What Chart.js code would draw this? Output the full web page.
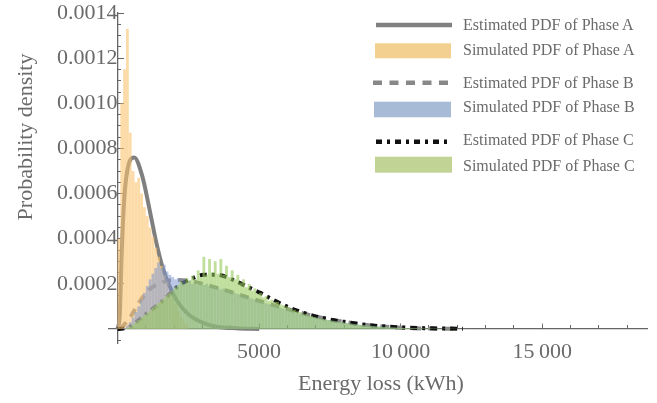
<!DOCTYPE html>
<html>
<head>
<meta charset="utf-8">
<script src="https://cdn.jsdelivr.net/npm/chart.js@4.4.1/dist/chart.umd.min.js"></script>
<style>
html,body{margin:0;padding:0;background:#fff;}
#wrap{position:relative;width:657px;height:403px;overflow:hidden;font-family:'Liberation Serif','Times New Roman',serif;color:#666;}
#c{position:absolute;left:0;top:0;}
#sw{position:absolute;left:0;top:0;}
.lg{position:absolute;left:463px;font-size:16px;line-height:16px;white-space:nowrap;color:#6a6a6a;}
#ytitle{position:absolute;left:25px;top:137px;font-size:22px;line-height:22px;white-space:nowrap;transform:translate(-50%,-50%) rotate(-90deg);color:#6a6a6a;}
#xtitle{position:absolute;left:381px;top:383px;font-size:22px;line-height:22px;white-space:nowrap;transform:translate(-50%,-50%);color:#6a6a6a;}
</style>
</head>
<body>
<div id="wrap">
<canvas id="c" width="657" height="403"></canvas>
<svg id="sw" width="657" height="403">
  <line x1="376" y1="25" x2="452" y2="25" stroke="#808080" stroke-width="4.5"/>
  <rect x="375" y="43.3" width="76" height="15" fill="#f3d08f"/>
  <line x1="373" y1="82.7" x2="449" y2="82.7" stroke="#888888" stroke-width="4.5" stroke-dasharray="9 7.5"/>
  <rect x="374" y="101.7" width="77" height="15.6" fill="#a8bbd6"/>
  <line x1="376" y1="141.7" x2="450" y2="141.7" stroke="#111111" stroke-width="4.5" stroke-dasharray="6 5 3 5"/>
  <rect x="375" y="156.7" width="77" height="16" fill="#c2d396"/>
</svg>
<div class="lg" style="top:16.6px">Estimated PDF of Phase A</div>
<div class="lg" style="top:41.6px">Simulated PDF of Phase A</div>
<div class="lg" style="top:75px">Estimated PDF of Phase B</div>
<div class="lg" style="top:99.3px">Simulated PDF of Phase B</div>
<div class="lg" style="top:132.3px">Estimated PDF of Phase C</div>
<div class="lg" style="top:157.6px">Simulated PDF of Phase C</div>
<div id="ytitle">Probability density</div>
<div id="xtitle">Energy loss (kWh)</div>
</div>
<script>
// ---- data (densities in units of 1e-4 per kWh) ----
const unit = 1e-4;
const binStart = 0;
const binWidth = 100;

const simPhaseA = [4.0,10.0,11.5,13.3,8.7,7.0,6.5,6.7,6.0,5.4,
  5.0,4.5,4.1,3.6,3.2,2.8,2.4,2.1,1.7,1.4,
  1.1,0.8,0.5,0.3,0.2];

const simPhaseB = [0,0,0.05,0.15,0.3,0.5,0.75,1.0,1.3,1.6,
  1.9,2.2,2.45,2.7,2.95,2.7,2.85,2.55,2.4,2.3,
  2.2,2.25,2.1,2.2,2.05,2.15,2.0,2.1,1.95,2.05,
  1.95,2.0,1.9,1.95,1.85,1.85,1.75,1.8,1.7,1.7,
  1.62,1.6,1.55,1.52,1.47,1.43,1.4,1.35,1.3,1.27,
  1.22,1.18,1.14,1.1,1.06,1.02,0.98,0.94,0.9,0.86,
  0.82,0.78,0.75,0.71,0.68,0.65,0.62,0.59,0.56,0.53,
  0.5,0.47,0.45,0.42,0.4,0.38,0.36,0.34,0.32,0.3,
  0.28,0.26,0.24,0.22,0.21,0.19,0.18,0.17,0.15,0.14,
  0.13,0.12,0.11,0.1,0.09,0.08,0.07,0.065,0.06,0.05,
  0.045,0.04,0.035,0.03,0.03,0.025,0.02,0.02,0.015,0.015,
  0.01,0.01,0.01,0.008,0.008,0.006,0.006,0.005,0.005,0.004,
  0.004,0.003,0.003,0.003,0.002];

const simPhaseC = [0,0,0,0.05,0.1,0.2,0.3,0.4,0.5,0.6,
  0.7,0.8,0.95,1.05,1.15,1.25,1.35,1.5,1.6,1.7,
  1.85,1.95,2.1,2.0,2.25,2.15,2.35,2.2,2.6,2.3,
  3.2,2.4,3.1,2.5,3.0,2.45,3.1,2.4,2.8,2.3,
  2.6,2.2,2.4,2.05,2.2,1.85,2.0,1.7,1.8,1.55,
  1.6,1.4,1.45,1.25,1.3,1.2,1.2,1.1,1.05,1.0,
  0.95,0.88,0.85,0.78,0.75,0.68,0.66,0.6,0.58,0.53,
  0.5,0.47,0.45,0.42,0.4,0.37,0.35,0.33,0.31,0.29,
  0.27,0.25,0.23,0.21,0.2,0.18,0.17,0.16,0.15,0.14,
  0.12,0.11,0.1,0.09,0.085,0.08,0.07,0.065,0.06,0.055,
  0.05,0.045,0.04,0.035,0.03,0.03,0.025,0.025,0.02,0.02,
  0.02,0.015,0.015,0.015,0.01,0.01,0.01,0.01,0.008,0.008,
  0.006,0.005];

const estA_x = [0,80,150,235,350,590,880,1115,1350,1585,1820,2100,2500,3000,3500,4200,5000];
const estA_y = [0,0.6,3.4,5.7,7.05,7.6,6.75,5.4,3.95,2.76,1.95,1.25,0.65,0.28,0.1,0.03,0];

const estB_x = [100,460,750,1045,1510,2100,2600,3160,3980,4680,5855,7030,8000,9000,10000,11000,12000];
const estB_y = [0,0.54,1.15,1.65,2.04,2.17,2.12,1.95,1.65,1.37,0.93,0.55,0.32,0.15,0.06,0.02,0.005];

const estC_x = [0,400,750,1045,1630,2100,2570,3040,3510,4100,4570,5040,5500,5975,6560,7385,8090,8800,9960,11100,12200];
const estC_y = [0,0.08,0.4,0.7,1.29,1.86,2.2,2.4,2.4,2.17,1.88,1.6,1.29,1.0,0.72,0.45,0.3,0.18,0.075,0.03,0.01];

const xMajorTicks = [5000,10000,15000];
const xTickLabels = ['5000','10\u2009000','15\u2009000'];
const xMinorTicks = [1000,2000,3000,4000,5000,6000,7000,8000,9000,10000,11000,12000,13000,14000,15000,16000,17000,18000];
const yMajorTicks = [0.0002,0.0004,0.0006,0.0008,0.0010,0.0012,0.0014];
const yTickLabels = ['0.0002','0.0004','0.0006','0.0008','0.0010','0.0012','0.0014'];
const yMinorTicks = [-0.00005,0.00005,0.0001,0.00015,0.0002,0.00025,0.0003,0.00035,0.0004,0.00045,0.0005,0.00055,0.0006,0.00065,0.0007,0.00075,0.0008,0.00085,0.0009,0.00095,0.001,0.00105,0.0011,0.00115,0.0012,0.00125,0.0013,0.00135,0.0014];

const xRange = [-300, 18700];
const yRange = [-0.000062, 0.0014];

// ---- build ----
function toBars(arr){ return arr.map((v,i)=>({x: binStart + (i+0.5)*binWidth, y: v*unit})); }
function toPts(xs, ys){ return xs.map((x,i)=>({x: x, y: ys[i]*unit})); }

Chart.defaults.font.family = "'Liberation Serif','Times New Roman',serif";
Chart.defaults.color = '#6a6a6a';

const lineCommon = {type:'line', pointRadius:0, borderWidth:4, fill:false, cubicInterpolationMode:'monotone'};
const barCommon = {type:'bar', grouped:false, barPercentage:1, categoryPercentage:1, borderWidth:0, inflateAmount:0};

function setTicks(list){ return function(axis){ axis.ticks = list.map(v=>({value:v})); }; }

// plot frame (pixels) and axes crossing at the zero lines
const plotBox = {left:109, right:647, top:13, bottom:343};
const fixScales = {
  id: 'fixScales',
  afterLayout(chart) {
    const a = chart.chartArea;
    a.left = plotBox.left; a.right = plotBox.right; a.top = plotBox.top; a.bottom = plotBox.bottom;
    a.width = a.right - a.left; a.height = a.bottom - a.top;
    Object.values(chart.scales).forEach(s => {
      if (s.isHorizontal()) { s.left = a.left; s.right = a.right; s.width = a.width; }
      else { s.top = a.top; s.bottom = a.bottom; s.height = a.height; }
      s.configure();
    });
  }
};

new Chart(document.getElementById('c'), {
  type: 'bar',
  plugins: [fixScales],
  data: {
    datasets: [
      Object.assign({}, lineCommon, {label:'Estimated PDF of Phase A', data: toPts(estA_x, estA_y), borderColor:'#7f7f7f', order:6}),
      Object.assign({}, lineCommon, {label:'Estimated PDF of Phase B', data: toPts(estB_x, estB_y), borderColor:'#8a8a8a', borderDash:[9,7], order:5}),
      Object.assign({}, lineCommon, {label:'Estimated PDF of Phase C', data: toPts(estC_x, estC_y), borderColor:'#111111', borderDash:[7,5,3,5], order:4}),
      Object.assign({}, barCommon, {label:'Simulated PDF of Phase A', data: toBars(simPhaseA), backgroundColor:'rgba(250,195,110,0.6)', order:3}),
      Object.assign({}, barCommon, {label:'Simulated PDF of Phase B', data: toBars(simPhaseB), backgroundColor:'rgba(125,150,205,0.55)', order:2}),
      Object.assign({}, barCommon, {label:'Simulated PDF of Phase C', data: toBars(simPhaseC), backgroundColor:'rgba(150,200,90,0.6)', order:1})
    ]
  },
  options: {
    responsive:false, animation:false, devicePixelRatio:1,
    layout:{padding:{left:109, right:10, top:13, bottom:60}},
    plugins:{legend:{display:false}, tooltip:{enabled:false}},
    scales:{
      x:{type:'linear', min:xRange[0], max:xRange[1], position:{y:0}, offset:false,
        afterBuildTicks:setTicks(xMajorTicks),
        ticks:{callback:(v,i)=>xTickLabels[i], font:{size:22, lineHeight:1}, color:'#6a6a6a', padding:18, maxRotation:0, autoSkip:false},
        grid:{offset:false, drawOnChartArea:false, drawTicks:true, tickLength:-6, tickColor:'#888', tickWidth:1},
        border:{display:true, color:'#666', width:1.3}},
      x2:{type:'linear', min:xRange[0], max:xRange[1], position:{y:0}, offset:false,
        afterBuildTicks:setTicks(xMinorTicks),
        ticks:{callback:()=> '', autoSkip:false},
        grid:{offset:false, drawOnChartArea:false, drawTicks:true, tickLength:-4, tickColor:'#666', tickWidth:1},
        border:{display:false}},
      y:{type:'linear', min:yRange[0], max:yRange[1], position:{x:0},
        afterBuildTicks:setTicks(yMajorTicks),
        ticks:{callback:(v,i)=>yTickLabels[i], font:{size:22, lineHeight:1}, color:'#6a6a6a', padding:19.5, autoSkip:false},
        grid:{drawOnChartArea:false, drawTicks:true, tickLength:-7, tickColor:'#666', tickWidth:1},
        border:{display:true, color:'#666', width:1.3}},
      y2:{type:'linear', min:yRange[0], max:yRange[1], position:{x:0},
        afterBuildTicks:setTicks(yMinorTicks),
        ticks:{callback:()=> '', autoSkip:false},
        grid:{drawOnChartArea:false, drawTicks:true, tickLength:-4, tickColor:'#666', tickWidth:1},
        border:{display:false}}
    }
  }
});
</script>
</body>
</html>
